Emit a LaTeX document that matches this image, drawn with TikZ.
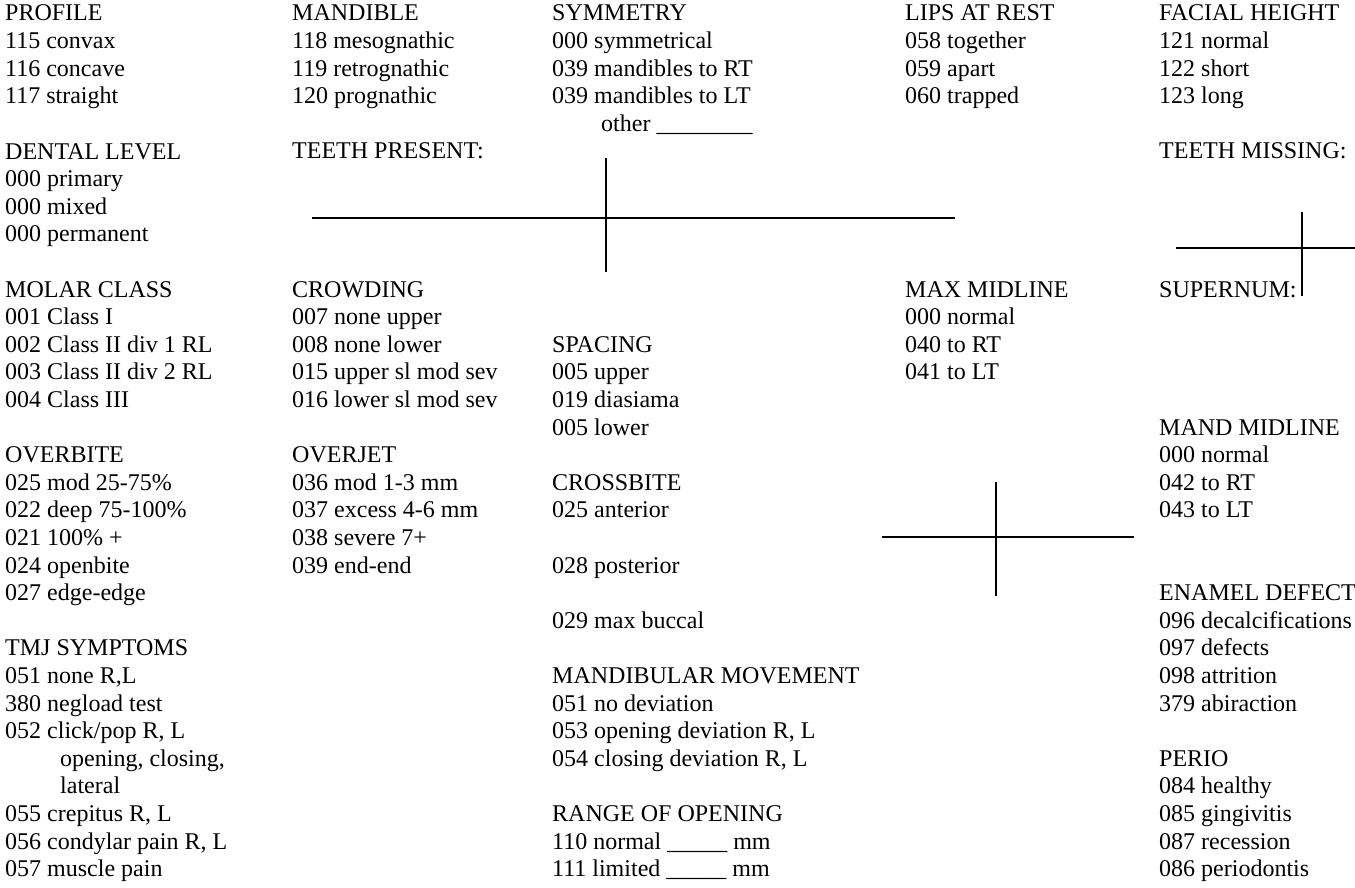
\documentclass[tikz,border=0pt]{standalone}
\usepackage{fontspec}
\setmainfont{Liberation Serif}
\usetikzlibrary{positioning}

% baseline of text row #1 (a node sits on the baseline of its last row)
\newcommand{\rowy}[1]{21+27.6*#1}

\begin{document}
\begin{tikzpicture}[x=1pt,y=-1pt]
\tikzset{
  field/.style={anchor=base west, inner sep=0pt, align=left,
                font=\fontsize{24}{27.6}\selectfont},
  rule/.style={line width=1.6pt}
}

\useasboundingbox (0,0) rectangle (1355,888);

% first column
\node[field] (profile)  at (5,{\rowy{3}})  {PROFILE\\115 convax\\116 concave\\117 straight};
\node[field] (dental)   at (5,{\rowy{8}})  {DENTAL LEVEL\\000 primary\\000 mixed\\000 permanent};
\node[field] (molar)    at (5,{\rowy{14}}) {MOLAR CLASS\\001 Class I\\002 Class II div 1 RL\\003 Class II div 2 RL\\004 Class III};
\node[field] (overbite) at (5,{\rowy{21}}) {OVERBITE\\025 mod 25-75\%\\022 deep 75-100\%\\021 100\% +\\024 openbite\\027 edge-edge};
\node[field] (tmj)      at (5,{\rowy{31}}) {TMJ SYMPTOMS\\051 none R,L\\380 negload test\\052 click/pop R, L\\
                                            \hspace{55pt}opening, closing,\\\hspace{55pt}lateral\\
                                            055 crepitus R, L\\056 condylar pain R, L\\057 muscle pain};

% second column
\node[field] (mandible) at (292,{\rowy{3}})  {MANDIBLE\\118 mesognathic\\119 retrognathic\\120 prognathic};
\node[field] (present)  at (292,{\rowy{5}})  {TEETH PRESENT:};
\node[field] (crowding) at (292,{\rowy{14}}) {CROWDING\\007 none upper\\008 none lower\\015 upper sl mod sev\\016 lower sl mod sev};
\node[field] (overjet)  at (292,{\rowy{20}}) {OVERJET\\036 mod 1-3 mm\\037 excess 4-6 mm\\038 severe 7+\\039 end-end};

% third column
\node[field] (symmetry) at (552,{\rowy{4}})  {SYMMETRY\\000 symmetrical\\039 mandibles to RT\\039 mandibles to LT\\
                                              \hspace{49pt}other \_\_\_\_\_\_\_\_};
\node[field] (spacing)  at (552,{\rowy{15}}) {SPACING\\005 upper\\019 diasiama\\005 lower};
\node[field] (crossbite) at (552,{\rowy{22}}) {CROSSBITE\\025 anterior\\[27.6pt]028 posterior\\[27.6pt]029 max buccal};
\node[field] (movement) at (552,{\rowy{27}}) {MANDIBULAR MOVEMENT\\051 no deviation\\053 opening deviation R, L\\054 closing deviation R, L};
\node[field] (opening)  at (552,{\rowy{31}}) {RANGE OF OPENING\\110 normal \_\_\_\_\_ mm\\111 limited \_\_\_\_\_ mm};

% fourth column
\node[field] (lips)     at (905,{\rowy{3}})  {LIPS AT REST\\058 together\\059 apart\\060 trapped};
\node[field] (maxmid)   at (905,{\rowy{13}}) {MAX MIDLINE\\000 normal\\040 to RT\\041 to LT};

% fifth column
\node[field] (facial)   at (1159,{\rowy{3}})  {FACIAL HEIGHT\\121 normal\\122 short\\123 long};
\node[field] (missing)  at (1159,{\rowy{5}})  {TEETH MISSING:};
\node[field] (supernum) at (1159,{\rowy{10}}) {SUPERNUM:};
\node[field] (mandmid)  at (1159,{\rowy{18}}) {MAND MIDLINE\\000 normal\\042 to RT\\043 to LT};
\node[field] (enamel)   at (1159,{\rowy{25}}) {ENAMEL DEFECTS\\096 decalcifications\\097 defects\\098 attrition\\379 abiraction};
\node[field] (perio)    at (1159,{\rowy{31}}) {PERIO\\084 healthy\\085 gingivitis\\087 recession\\086 periodontis};

% tooth charts
\draw[rule] (312,218) -- (955,218);
\draw[rule] (606,158) -- (606,272);
\draw[rule] (1176,248) -- (1355,248);
\draw[rule] (1302,212) -- (1302,296);
\draw[rule] (882,537) -- (1134,537);
\draw[rule] (996,482) -- (996,596);

\end{tikzpicture}
\end{document}
